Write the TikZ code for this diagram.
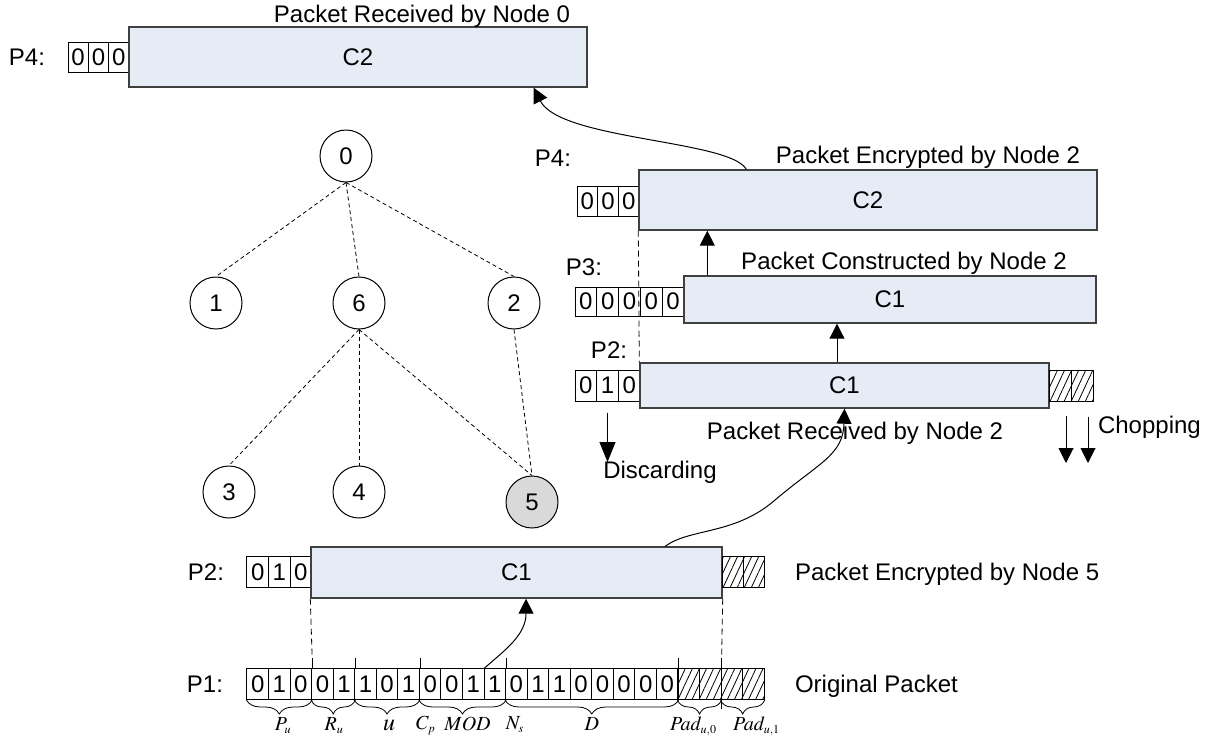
\documentclass[tikz,border=0pt]{standalone}
\usepackage{mathptmx}
\usepackage[no-math]{fontspec}
\setmainfont{Liberation Sans}
\usepackage{tikz}
\usetikzlibrary{arrows.meta,decorations.pathreplacing,patterns.meta}
\definecolor{pktfill}{RGB}{229,236,246}
\definecolor{leafgray}{RGB}{217,217,217}
\definecolor{rimgray}{RGB}{64,64,64}

\begin{document}
\begin{tikzpicture}[x=0.5pt,y=-0.5pt,
  every node/.style={font=\fontsize{12}{14}\selectfont},
  bitcell/.style={draw, line width=0.5pt, inner sep=0pt, minimum width=10.78pt, minimum height=15.5pt},
  padcell/.style={bitcell, pattern={Lines[angle=65,distance=3.2pt,line width=0.4pt]}},
  pkt/.style={draw=rimgray, fill=pktfill, line width=0.7pt, inner sep=0pt},
  pkttitle/.style={anchor=base},
  tnode/.style={circle, draw, line width=0.5pt, minimum size=26pt, inner sep=0pt},
  tedge/.style={dash pattern=on 2pt off 1.5pt, line width=0.4pt},
  hop/.style={line width=0.5pt, -{Triangle[length=7.5pt,width=7.5pt]}},
  drop/.style={line width=0.5pt, -{Triangle[length=10pt,width=8pt]}},
  fld/.style={font=\fontsize{10}{12}\selectfont, anchor=base, inner sep=0pt},
  brc/.style={decorate, decoration={brace, mirror, amplitude=7pt}, line width=0.4pt},
  guide/.style={dash pattern=on 3pt off 2pt, line width=0.4pt}
  ]
\useasboundingbox (0,0) rectangle (1217,745);

\node (r0l) at (27,57) {P4:};
\foreach \b [count=\i] in {0,0,0}
  \node[bitcell, minimum width=10.15pt, minimum height=15pt] (r0b\i) at ({68+(\i-0.5)*20.3},57) {\b};
\node[pkt, minimum width=229pt, minimum height=30pt] (r0) at (358,57) {C2};
\node[pkttitle] (r0t) at (422,22) {Packet Received by Node 0};

\node (e2l) at (553,158) {P4:};
\foreach \b [count=\i] in {0,0,0}
  \node[bitcell, minimum width=10.35pt, minimum height=15pt] (e2b\i) at ({577+(\i-0.5)*20.7},201) {\b};
\node[pkt, minimum width=229pt, minimum height=30pt] (e2) at (868,200) {C2};
\node[pkttitle] (e2t) at (928,163) {Packet Encrypted by Node 2};

\node (c2l) at (584,267) {P3:};
\foreach \b [count=\i] in {0,0,0,0,0}
  \node[bitcell, minimum width=10.9pt, minimum height=14.5pt] (c2b\i) at ({575+(\i-0.5)*21.8},301.5) {\b};
\node[pkt, minimum width=206pt, minimum height=23.5pt] (c2) at (890,299.5) {C1};
\node[pkttitle] (c2t) at (904,269) {Packet Constructed by Node 2};

\node (r2l) at (609,350) {P2:};
\foreach \b [count=\i] in {0,1,0}
  \node[bitcell, minimum width=10.83pt] (r2b\i) at ({575+(\i-0.5)*21.67},385.5) {\b};
\node[pkt, minimum width=204.5pt, minimum height=22.5pt] (r2) at (844.5,385.5) {C1};
\foreach \i in {1,2}
  \node[padcell, minimum width=11pt] (r2h\i) at ({1049+(\i-0.5)*22},385.5) {};
\node[pkttitle] (r2t) at (855,439) {Packet Received by Node 2};
\node[pkttitle] (dsc) at (660,478) {Discarding};
\node[pkttitle, anchor=base west] (chp) at (1091,433) {Chopping};
\coordinate (dscTip) at (608,462);
\coordinate (chpA) at (1066,463);
\coordinate (chpB) at (1088,463);

\node (e5l) at (206,572) {P2:};
\foreach \b [count=\i] in {0,1,0}
  \node[bitcell] (e5b\i) at ({247+(\i-0.5)*21.55},572) {\b};
\node[pkt, minimum width=205.5pt, minimum height=25.5pt] (e5) at (516.5,572.5) {C1};
\foreach \i in {1,2}
  \node[padcell, minimum width=10.5pt] (e5h\i) at ({722+(\i-0.5)*21},572) {};
\node[pkttitle, anchor=base west] (e5t) at (788,580.5) {Packet Encrypted by Node 5};

\node (p1l) at (205,684) {P1:};
\foreach \b [count=\i] in {0,1,0,0,1,1,0,1,0,0,1,1,0,1,1,0,0,0,0,0}
  \node[bitcell] (p1b\i) at ({247+(\i-0.5)*21.55},684) {\b};
\foreach \i in {1,...,4}
  \node[padcell] (p1h\i) at ({678+(\i-0.5)*21.55},684) {};
\node[pkttitle, anchor=base west] (p1t) at (788,692.5) {Original Packet};

\foreach \k in {3,5,8,12,20}
  \draw[line width=0.4pt] (p1b\k.north east) -- ++(0,-10);
\draw[line width=0.4pt] ([yshift=5pt]p1h2.north east) -- ([yshift=-4.5pt]p1h2.south east);
\draw[guide] (e5.south west) -- ([yshift=5pt]p1b3.north east);
\draw[guide] (e5.south east) -- ([yshift=5pt]p1h2.north east);
\draw[guide] (e2.south west) -- (r2.north west);

\draw[brc] (p1b1.south west) -- node[fld, yshift=-15pt, xshift=2pt] (fpu) {$P_{\scriptscriptstyle u}$} (p1b3.south east);
\draw[brc] (p1b4.south west) -- node[fld, yshift=-15pt, xshift=0.5pt] (fru) {$R_{\scriptscriptstyle u}$} (p1b5.south east);
\draw[brc] (p1b6.south west) -- node[fld, yshift=-15pt, xshift=1pt] (fu) {\fontsize{12}{12}\selectfont$u$} (p1b8.south east);
\draw[brc] (p1b9.south west) -- node[fld, yshift=-15pt, xshift=2.5pt] (fmod) {$MOD$} (p1b12.south east);
\draw[brc] (p1b13.south west) -- node[fld, yshift=-15pt] (fd) {$D$} (p1b20.south east);
\draw[brc] (p1h1.south west) -- node[fld, yshift=-15pt, xshift=-3pt] (fpad0) {$Pad_{\scriptscriptstyle u,0}$} (p1h2.south east);
\draw[brc] (p1h3.south west) -- node[fld, yshift=-15pt, xshift=7pt] (fpad1) {$Pad_{\scriptscriptstyle u,1}$} (p1h4.south east);
\node[fld] (fcp) at (426,729.5) {$C_{\scriptscriptstyle p}$};
\node[fld] (fns) at (515,729.5) {$N_{\scriptscriptstyle s}$};

\node[tnode] (t0) at (346,156) {0};
\node[tnode] (t1) at (216,303) {1};
\node[tnode] (t6) at (359,303) {6};
\node[tnode] (t2) at (514,303) {2};
\node[tnode] (t3) at (229,492) {3};
\node[tnode] (t4) at (359,492) {4};
\node[tnode, fill=leafgray] (t5) at (532,502) {5};
\foreach \a/\b in {t0/t1,t0/t6,t0/t2,t6/t3,t6/t4,t6/t5,t2/t5}
  \draw[tedge] (\a.south) -- (\b.north);

\draw[hop] (p1b11.north east) .. controls (505,650) and (526,635) .. (e5.-70);
\draw[hop] (e5.10) .. controls (690,528) and (735,535) .. (775,500) .. controls (820,462) and (843,455) .. (r2.south);
\draw[hop] ([xshift=-3.75pt]r2.north) -- ([xshift=-3.75pt]r2.north |- c2.south);
\draw[hop] ([xshift=12pt]c2.north west) -- ([xshift=12pt]c2.north west |- e2.south);
\draw[hop] ([xshift=54pt]e2.north west) .. controls (730,140) and (560,140) .. ([xshift=-27pt]r0.south east);
\draw[drop] ([yshift=-5.5pt]r2b2.south) -- (r2b2.south |- dscTip);
\draw[hop] ([xshift=3pt,yshift=-7.5pt]r2h1.south) -- (chpA);
\draw[hop] ([xshift=3pt,yshift=-7.5pt]r2h2.south) -- (chpB);
\end{tikzpicture}
\end{document}
